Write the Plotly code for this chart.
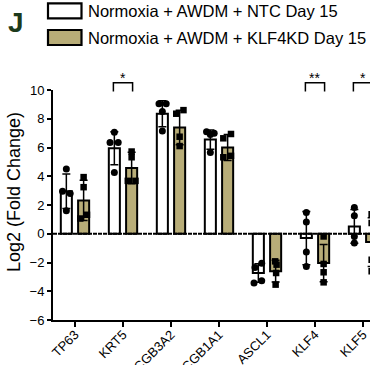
import plotly.graph_objects as go

# ---------------- data ----------------
categories = ["TP63", "KRT5", "SCGB3A2", "SCGB1A1", "ASCL1", "KLF4", "KLF5"]
series_names = ["Normoxia + AWDM + NTC Day 15", "Normoxia + AWDM + KLF4KD Day 15"]

ntc_mean = [2.95, 5.95, 8.35, 6.55, -2.73, -0.30, 0.51]
ntc_sd = [1.20, 1.15, 0.90, 0.67, 0.65, 1.85, 1.17]
kd_mean = [2.32, 4.57, 7.40, 6.00, -2.60, -2.04, -0.58]
kd_sd = [1.40, 1.10, 1.20, 0.90, 0.75, 1.30, 1.70]

ntc_points = [
    [4.50, 2.95, 2.80, 1.60],
    [7.06, 6.34, 6.34, 4.26],
    [9.05, 9.05, 8.50, 7.15],
    [7.10, 6.90, 7.00, 5.65],
    [-2.34, -2.06, -3.43, -3.27],
    [1.48, 0.81, -1.27, -2.27],
    [1.83, 1.25, -0.19, -0.65],
]
kd_points = [
    [3.94, 3.24, 1.06, 1.32],
    [5.72, 5.32, 3.68, 3.68],
    [8.35, 8.60, 6.75, 6.10],
    [6.64, 6.94, 5.32, 5.42],
    [-1.92, -2.15, -2.73, -3.54],
    [-0.19, -2.10, -2.68, -3.38],
    [1.35, 0.75, -1.80, -2.60],
]

sig_categories = ["KRT5", "KLF4", "KLF5"]
sig_labels = ["*", "**", "*"]
y_ticks = [-6, -4, -2, 0, 2, 4, 6, 8, 10]
y_title = "Log2 (Fold Change)"
panel_label = "J"

# ---------------- style ----------------
W, H = 370, 365
M_L, M_R, M_T, M_B = 53, 0, 90, 45
FONT = "Liberation Sans, Arial, sans-serif"
KD_COLOR = "#b8ad78"
X_RANGE = [-0.458, 6.146]
Y_RANGE = [-6, 10]
GROUP_OFFSET = 0.18
# horizontal scatter of the individual points (category units)
ntc_jit = [[0, -0.08, 0.08, 0], [0, -0.09, 0.08, 0], [-0.07, 0.08, 0, 0],
           [-0.08, 0, 0.08, 0], [-0.07, 0.07, -0.09, 0.07], [0, 0, 0, 0], [0, 0, 0, 0]]
kd_jit = [[0, 0, -0.07, 0.07], [0, 0, -0.08, 0.08], [-0.07, 0.08, 0, 0],
          [-0.09, 0.07, -0.09, 0.07], [-0.01, 0.02, 0.01, 0], [0, 0, 0, 0], [0, 0, 0, 0]]

plot_w = W - M_L - M_R
plot_h = H - M_T - M_B


def px_x(px):
    return (px - M_L) / plot_w


def px_y(py):
    return (H - M_B - py) / plot_h


def data_to_paper_y(v):
    return (v - Y_RANGE[0]) / (Y_RANGE[1] - Y_RANGE[0])


idx = list(range(len(categories)))

fig = go.Figure()

err_style = dict(type="data", color="black", thickness=1.5, width=4, visible=True)

fig.add_trace(go.Bar(
    x=idx, y=ntc_mean, name=series_names[0],
    marker=dict(color="white", line=dict(color="black", width=2)),
    error_y=dict(array=ntc_sd, **err_style),
    showlegend=False,
))
fig.add_trace(go.Bar(
    x=idx, y=kd_mean, name=series_names[1],
    marker=dict(color=KD_COLOR, line=dict(color="black", width=2)),
    error_y=dict(array=kd_sd, **err_style),
    showlegend=False,
))

# individual points
nx, ny, kx, ky = [], [], [], []
for i in idx:
    for v, j in zip(ntc_points[i], ntc_jit[i]):
        nx.append(i - GROUP_OFFSET + j)
        ny.append(v)
    for v, j in zip(kd_points[i], kd_jit[i]):
        kx.append(i + GROUP_OFFSET + j)
        ky.append(v)

fig.add_trace(go.Scatter(x=nx, y=ny, mode="markers",
                         marker=dict(symbol="circle", size=7, color="black"),
                         showlegend=False))
fig.add_trace(go.Scatter(x=kx, y=ky, mode="markers",
                         marker=dict(symbol="square", size=6.5, color="black"),
                         showlegend=False))

shapes = []
annotations = []

# dashed zero line
shapes.append(dict(type="line", xref="paper", yref="y", x0=0, x1=1, y0=0, y1=0,
                   line=dict(color="black", width=2, dash="4px,1px")))

# significance brackets
for cat, lab in zip(sig_categories, sig_labels):
    c = categories.index(cat)
    x0, x1 = c - 0.2, c + 0.2
    yb = data_to_paper_y(9.9)
    yt = data_to_paper_y(10.5)
    shapes.append(dict(type="path", xref="x", yref="paper",
                       path=f"M {x0},{yb} L {x0},{yt} L {x1},{yt} L {x1},{yb}",
                       line=dict(color="black", width=1.5)))
    annotations.append(dict(x=c, y=data_to_paper_y(10.8), xref="x", yref="paper",
                            text=lab, showarrow=False, xanchor="center", yanchor="middle",
                            font=dict(family=FONT, size=14, color="black")))

# legend (manual, large boxes)
legend_rows = [(3.3, 18.3, "white"), (30.0, 45.0, KD_COLOR)]
for (ytop, ybot, col), name in zip(legend_rows, series_names):
    shapes.append(dict(type="rect", xref="paper", yref="paper",
                       x0=px_x(48), x1=px_x(81.5), y0=px_y(ybot), y1=px_y(ytop),
                       fillcolor=col, line=dict(color="black", width=2.2)))
    annotations.append(dict(x=px_x(86), y=px_y((ytop + ybot) / 2), xref="paper", yref="paper",
                            text=name, showarrow=False, xanchor="left", yanchor="middle",
                            font=dict(family=FONT, size=16.5, color="black")))

# panel label
annotations.append(dict(x=px_x(15.5), y=px_y(22.5), xref="paper", yref="paper",
                        text=f"<b>{panel_label}</b>", showarrow=False,
                        xanchor="center", yanchor="middle",
                        font=dict(family=FONT, size=28, color="#1c3a1c")))

# y axis title
annotations.append(dict(x=px_x(14), y=px_y(192), xref="paper", yref="paper",
                        text=y_title, showarrow=False, textangle=-90,
                        xanchor="center", yanchor="middle",
                        font=dict(family=FONT, size=18, color="black")))

fig.update_layout(
    width=W, height=H, autosize=False,
    margin=dict(l=M_L, r=M_R, t=M_T, b=M_B, pad=0),
    paper_bgcolor="white", plot_bgcolor="white",
    barmode="group", bargap=0.28, bargroupgap=0.36,
    font=dict(family=FONT, color="black"),
    shapes=shapes, annotations=annotations,
    showlegend=False,
)
fig.update_xaxes(
    range=X_RANGE, tickmode="array", tickvals=idx, ticktext=categories,
    tickangle=-45, tickfont=dict(family=FONT, size=13, color="black"),
    ticklabelstandoff=-5,
    showline=True, linecolor="black", linewidth=2,
    ticks="outside", ticklen=5, tickwidth=2, tickcolor="black",
    showgrid=False, zeroline=False, automargin=False,
)
fig.update_yaxes(
    range=Y_RANGE, tickmode="array", tickvals=y_ticks,
    tickfont=dict(family=FONT, size=13, color="black"),
    showline=True, linecolor="black", linewidth=2,
    ticks="outside", ticklen=4, tickwidth=2, tickcolor="black",
    showgrid=False, zeroline=False, automargin=False,
)

fig.write_html("out.html")
